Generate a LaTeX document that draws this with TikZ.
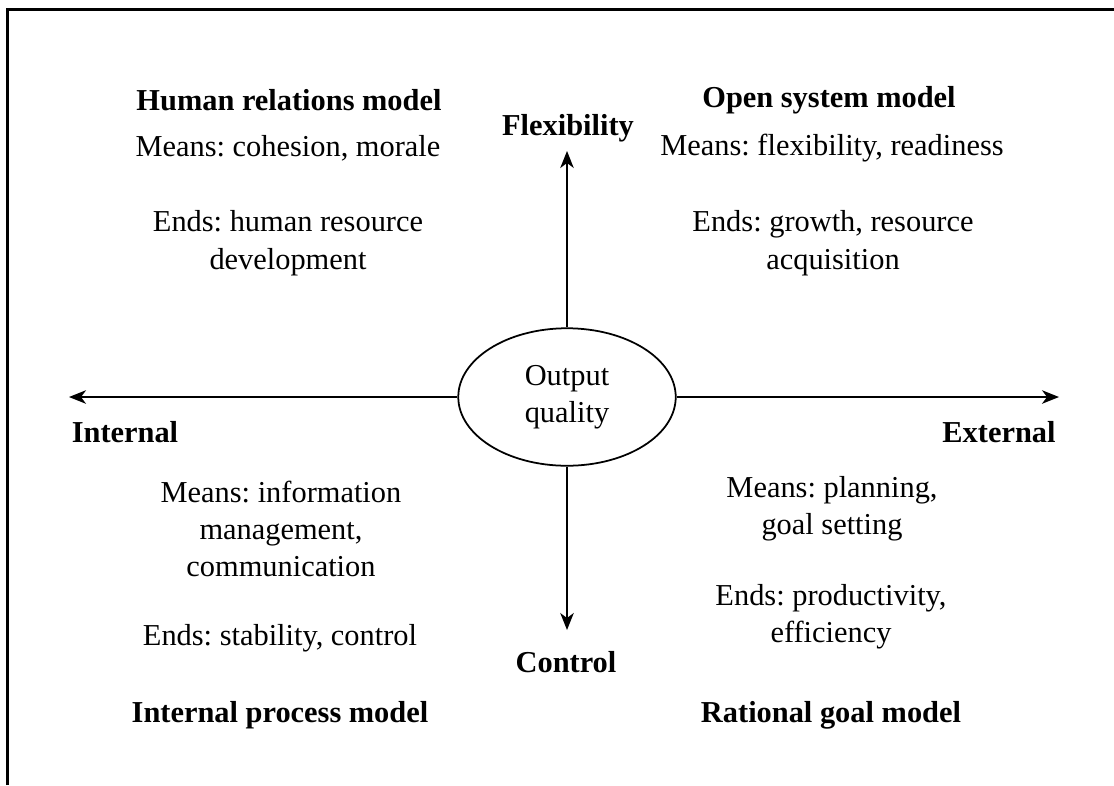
\documentclass[tikz,border=0pt]{standalone}
\usepackage{fontspec}
\setmainfont{Liberation Serif}
\frenchspacing
\usetikzlibrary{positioning}
\usetikzlibrary{shapes.geometric}
\usetikzlibrary{arrows.meta}

\begin{document}
\begin{tikzpicture}[
				x=0.02cm, y=-0.02cm,
				every node/.style={font=\fontsize{17.3}{21.3}\selectfont},
				textnode/.style={align=center, inner sep=0pt},
				modelnode/.style={textnode, font=\fontsize{17.3}{21.3}\selectfont\bfseries},
				centrenode/.style={ellipse, draw=black, line width=1pt, minimum width=4.35cm, minimum height=2.75cm, inner sep=0pt, align=center},
				axis/.style={line width=0.9pt, -{Stealth[length=3.4mm, width=2.7mm, inset=1mm]}},
				]
				\useasboundingbox (0,0) rectangle (1114,785);
				%Frame
				\draw[line width=1.3pt] (7.5,785) -- (7.5,9.5) -- (1114,9.5);

				%Nodes
				\node[centrenode]     (quality)  at  (567,397)   {Output\\quality};
				\coordinate           (up)       at  (567,151);
				\coordinate           (down)     at  (567,630);
				\coordinate           (left)     at  (69,397);
				\coordinate           (right)    at  (1059,397);

				\node[modelnode]      (flex)     at  (568,128)   {Flexibility};
				\node[modelnode]      (ctrl)     at  (566,662)   {Control};
				\node[modelnode]      (intl)     at  (125,432)   {Internal};
				\node[modelnode]      (extl)     at  (999,432)   {External};

				\node[modelnode]      (hrm)      at  (289,100)   {Human relations model};
				\node[textnode]       (hrmMeans) at  (288,148)   {Means: cohesion, morale};
				\node[textnode]       (hrmEnds)  at  (288,243)   {Ends: human resource\\development};

				\node[modelnode]      (osm)      at  (829,100)   {Open system model};
				\node[textnode]       (osmMeans) at  (832,148)   {Means: flexibility, readiness};
				\node[textnode]       (osmEnds)  at  (833,243)   {Ends: growth, resource\\acquisition};

				\node[textnode]       (ipmMeans) at  (281,529)   {Means: information\\management,\\communication};
				\node[textnode]       (ipmEnds)  at  (280,638)   {Ends: stability, control};
				\node[modelnode]      (ipm)      at  (280,715)   {Internal process model};

				\node[textnode]       (rgmMeans) at  (832,509)   {Means: planning,\\goal setting};
				\node[textnode]       (rgmEnds)  at  (831,617)   {Ends: productivity,\\efficiency};
				\node[modelnode]      (rgm)      at  (831,715)   {Rational goal model};

				%Lines
				\draw[axis] (quality.north) -- (up);
				\draw[axis] (quality.south) -- (down);
				\draw[axis] (quality.west) -- (left);
				\draw[axis] (quality.east) -- (right);
			\end{tikzpicture}
\end{document}
